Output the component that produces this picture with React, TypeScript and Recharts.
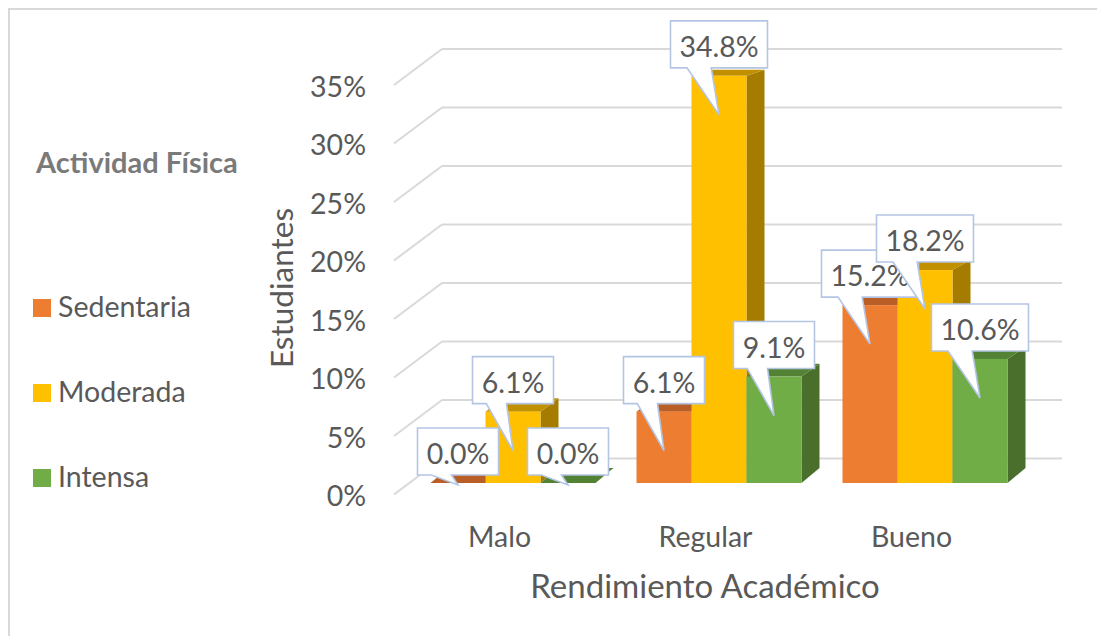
import { Bar, BarChart, CartesianGrid, LabelList, Legend, XAxis, YAxis } from 'recharts';

// valores (porcentaje de estudiantes)
const categories = ['Malo', 'Regular', 'Bueno'];
const sedentaria = [0.0, 6.1, 15.2];
const moderada = [6.1, 34.8, 18.2];
const intensa = [0.0, 9.1, 10.6];
const yTicks = [0, 5, 10, 15, 20, 25, 30, 35];

const data = categories.map((name, i) => ({
  name,
  sedentaria: sedentaria[i],
  moderada: moderada[i],
  intensa: intensa[i],
}));

const series = [
  { key: 'sedentaria', name: 'Sedentaria', front: '#ED7D31', top: '#B95E26', side: '#A4511D' },
  { key: 'moderada', name: 'Moderada', front: '#FFC000', top: '#C09000', side: '#A67C00' },
  { key: 'intensa', name: 'Intensa', front: '#70AD47', top: '#548235', side: '#4A6F2D' },
];

const FONT = 'Lato, "Open Sans", sans-serif';
const TEXT = '#595959';
const GRID = '#D9D9D9';
const DEPTH_X = 18;

// barra con cara superior y lateral (imitación del 3D de Excel)
const bar3d = (front: string, top: string, side: string) => (p: any) => {
  const { x, y, width: w, height: h } = p;
  if (x == null || y == null) return <g />;
  const dyT = -15 + h * 0.022;
  const dyB = -15;
  const topPts = `${x},${y} ${x + w},${y} ${x + w + DEPTH_X},${y + dyT} ${x + DEPTH_X},${y + dyT}`;
  const sidePts = `${x + w},${y} ${x + w + DEPTH_X},${y + dyT} ${x + w + DEPTH_X},${y + h + dyB} ${x + w},${y + h}`;
  return (
    <g>
      <polygon points={sidePts} fill={side} />
      <polygon points={topPts} fill={top} />
      <rect x={x} y={y} width={w} height={h} fill={front} />
    </g>
  );
};

const Callout = (props: any) => {
  const vb = props.viewBox ?? props;
  const { x, y, width, height } = vb;
  if (x == null || y == null) return null;
  const text = `${Number(props.value).toFixed(1)}%`;
  const w = text.length * 16 + 17;
  const cx = x + width / 2;
  const left = cx - w / 2;
  const bottom = y - 8;
  const top = bottom - 47;
  const tipY = Math.min(y + 39, y + height + 2);
  const d = `M${left},${top} H${left + w} V${bottom} H${left + w * 0.42} L${cx},${tipY} L${left + w * 0.17},${bottom} H${left} Z`;
  return (
    <g>
      <path d={d} fill="#fff" stroke="#B4C5E4" strokeWidth={1.6} />
      <text x={cx} y={bottom - 11} textAnchor="middle" fontSize={28.5} fill={TEXT} fontFamily={FONT}>
        {text}
      </text>
    </g>
  );
};

// líneas de la pared del fondo + diagonal hacia el frente
const gridLine = (p: any) => {
  const back = p.y1 - 24.5;
  return (
    <g key={`g-${p.y1}`}>
      <line x1={p.x1 + 32.5} y1={back} x2={p.x2 + 34.5} y2={back} stroke={GRID} strokeWidth={2} />
      <line x1={p.x1 + 32.5} y1={back} x2={p.x1 - 15.5} y2={back + 36} stroke={GRID} strokeWidth={2} />
    </g>
  );
};

const YTick = (p: any) => (
  <text x={366} y={p.y + 13} dy="0.36em" textAnchor="end" fontSize={28.5} fill={TEXT} fontFamily={FONT}>
    {`${p.payload.value}%`}
  </text>
);

const XTick = (p: any) => (
  <text x={p.x - 13} y={547} textAnchor="middle" fontSize={28.5} fill={TEXT} fontFamily={FONT}>
    {p.payload.value}
  </text>
);

const LegendBox = (props: any) => {
  const order = series.map((s) => s.name);
  const items = (props.payload ?? [])
    .filter((e: any) => order.includes(e.value))
    .sort((a: any, b: any) => order.indexOf(a.value) - order.indexOf(b.value));
  return (
    <svg width={300} height={636} style={{ overflow: 'visible' }}>
      <text x={36} y={173} fontSize={29} fontWeight={700} fill="#7A7A7A" fontFamily={FONT}>
        Actividad Física
      </text>
      {items.map((e: any, i: number) => (
        <g key={e.value}>
          <rect x={33} y={299 + i * 85} width={18} height={18} fill={e.color} />
          <text x={58} y={317 + i * 85} fontSize={28.5} fill={TEXT} fontFamily={FONT}>
            {e.value}
          </text>
        </g>
      ))}
    </svg>
  );
};

export default function App() {
  return (
    <div
      style={{
        position: 'absolute',
        left: 0,
        top: 0,
        width: 1097,
        height: 636,
        background: '#fff',
        overflow: 'hidden',
        fontFamily: FONT,
      }}
    >
      <div
        style={{
          position: 'absolute',
          left: 8,
          top: 8,
          width: 1200,
          height: 700,
          borderLeft: `2px solid ${GRID}`,
          borderTop: `2px solid ${GRID}`,
        }}
      />
      <BarChart
        width={1097}
        height={636}
        data={data}
        margin={{ top: 73.5, right: 69.5, bottom: 123, left: 369.5 }}
        barSize={55}
        barGap={0}
      >
        <CartesianGrid vertical={false} horizontal={gridLine} />
        <XAxis dataKey="name" height={30} axisLine={false} tickLine={false} tick={<XTick />} interval={0}
          label={{
            content: () => (
              <text x={705} y={598} textAnchor="middle" fontSize={33} fill={TEXT} fontFamily={FONT}>
                Rendimiento Académico
              </text>
            ),
          }}
        />
        <XAxis xAxisId="lbl" dataKey="name" hide />
        <YAxis
          width={40}
          domain={[0, 35]}
          ticks={yTicks}
          axisLine={false}
          tickLine={false}
          tick={<YTick />}
          label={{
            content: () => (
              <text x={293} y={288} transform="rotate(-90 293 288)" textAnchor="middle" fontSize={31.5} fill={TEXT} fontFamily={FONT}>
                Estudiantes
              </text>
            ),
          }}
        />
        <Legend
          layout="vertical"
          align="center"
          verticalAlign="middle"
          wrapperStyle={{ left: 0, top: 0, width: 300, height: 636 }}
          content={<LegendBox />}
        />
        {series.map((s) => (
          <Bar
            key={s.key}
            dataKey={s.key}
            name={s.name}
            fill={s.front}
            shape={bar3d(s.front, s.top, s.side)}
            isAnimationActive={false}
          />
        ))}
        {series.map((s) => (
          <Bar
            key={`lbl-${s.key}`}
            xAxisId="lbl"
            dataKey={s.key}
            legendType="none"
            fill="none"
            shape={() => <g />}
            isAnimationActive={false}
          >
            <LabelList dataKey={s.key} content={<Callout />} />
          </Bar>
        ))}
      </BarChart>
    </div>
  );
}
